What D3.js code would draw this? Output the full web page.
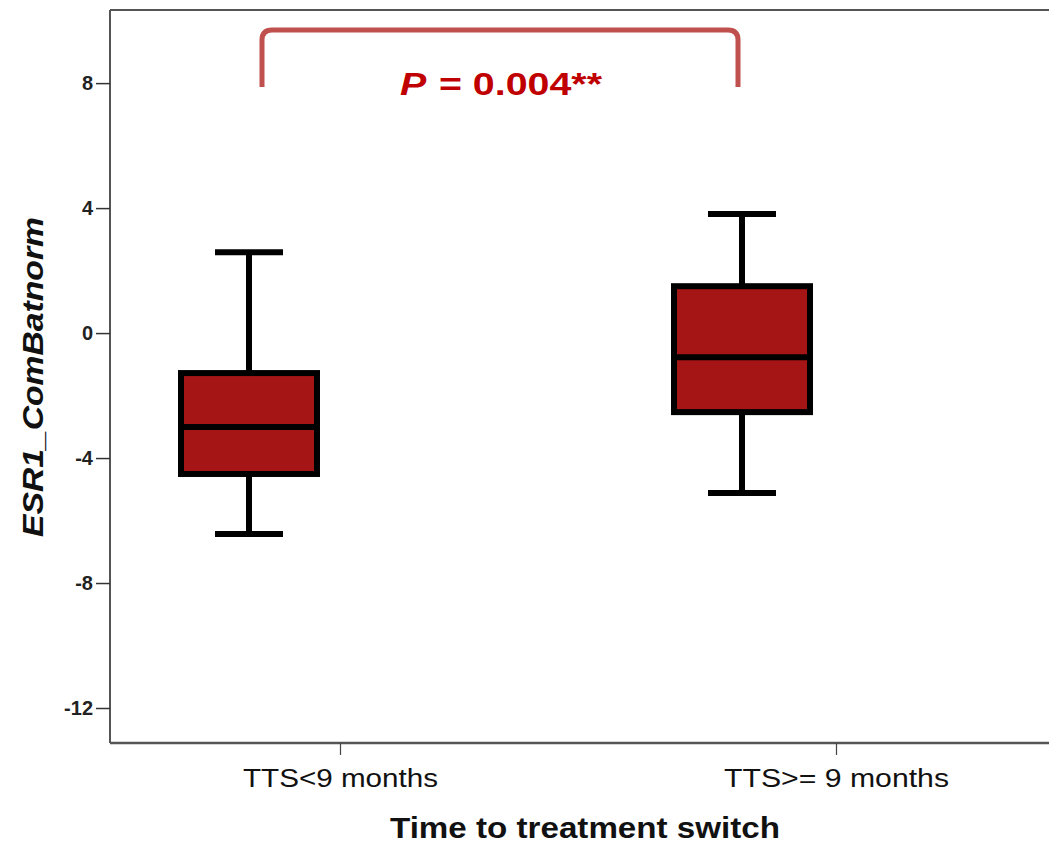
<!DOCTYPE html>
<html><head><meta charset="utf-8">
<script src="https://cdn.jsdelivr.net/npm/d3@7"></script>
<style>body{margin:0;background:#fff}svg{display:block}</style>
</head><body>
<svg id="c" width="1049" height="847"></svg>
<script>
const categories = ["TTS<9 months", "TTS>= 9 months"];
const whiskerLow = [-6.43, -5.12];
const q1 = [-4.51, -2.53];
const median = [-3.01, -0.77];
const q3 = [-1.28, 1.50];
const whiskerHigh = [2.59, 3.81];
const yTicks = [-12, -8, -4, 0, 4, 8];
const pLabel = "= 0.004**";

const svg = d3.select("#c");
const L = 110, T = 10, R = 1049, B = 743;
const y = d3.scaleLinear().domain([-13.12, 10.34]).range([B, T]);
const xBox = d3.scalePoint().domain(categories).range([249, 742]);
const xAxisScale = d3.scalePoint().domain(categories).range([340, 836]);

const frame = "#555";
svg.append("line").attr("x1", L).attr("x2", R).attr("y1", T).attr("y2", T).attr("stroke", frame).attr("stroke-width", 2);
svg.append("line").attr("x1", L).attr("x2", R).attr("y1", B).attr("y2", B).attr("stroke", frame).attr("stroke-width", 2.5);
svg.append("line").attr("x1", L).attr("x2", L).attr("y1", T).attr("y2", B).attr("stroke", frame).attr("stroke-width", 2);

// Y axis
const yAxis = svg.append("g").attr("transform", `translate(${L},0)`)
  .call(d3.axisLeft(y).tickValues(yTicks).tickSize(14).tickPadding(3).tickFormat(d => String(d)));
yAxis.select(".domain").remove();
yAxis.selectAll(".tick line").attr("stroke", "#333").attr("stroke-width", 1.5);
yAxis.selectAll(".tick text").attr("font-family", "Liberation Sans, Arial, sans-serif")
  .attr("font-weight", "bold").attr("font-size", 20).attr("fill", "#222");

// X axis
const xAxis = svg.append("g").attr("transform", `translate(0,${B})`)
  .call(d3.axisBottom(xAxisScale).tickSize(12).tickPadding(14));
xAxis.select(".domain").remove();
xAxis.selectAll(".tick line").attr("stroke", "#444").attr("stroke-width", 1.2);
xAxis.selectAll(".tick text").attr("font-family", "Liberation Sans, Arial, sans-serif")
  .attr("font-size", 25).attr("fill", "#111")
  .attr("textLength", (d, i) => i === 0 ? 195 : 225).attr("lengthAdjust", "spacingAndGlyphs");

// Titles
svg.append("text").attr("x", 585).attr("y", 838).attr("text-anchor", "middle")
  .attr("font-family", "Liberation Sans, Arial, sans-serif").attr("font-weight", "bold")
  .attr("font-size", 29).attr("fill", "#111")
  .attr("textLength", 390).attr("lengthAdjust", "spacingAndGlyphs")
  .text("Time to treatment switch");
svg.append("text").attr("transform", "translate(43,377) rotate(-90)").attr("text-anchor", "middle")
  .attr("font-family", "Liberation Sans, Arial, sans-serif").attr("font-weight", "bold").attr("font-style", "italic")
  .attr("font-size", 30).attr("fill", "#111")
  .attr("textLength", 320).attr("lengthAdjust", "spacingAndGlyphs")
  .text("ESR1_ComBatnorm");

// Boxes
const data = categories.map((c, i) => ({c, lo: whiskerLow[i], q1: q1[i], med: median[i], q3: q3[i], hi: whiskerHigh[i]}));
const boxW = 136, capW = 68;
const g = svg.append("g");
const bx = g.selectAll("g.box").data(data).join("g").attr("class", "box");
bx.append("line").attr("x1", d => xBox(d.c)).attr("x2", d => xBox(d.c))
  .attr("y1", d => y(d.hi)).attr("y2", d => y(d.lo)).attr("stroke", "#000").attr("stroke-width", 6);
bx.append("line").attr("x1", d => xBox(d.c) - capW / 2).attr("x2", d => xBox(d.c) + capW / 2)
  .attr("y1", d => y(d.hi)).attr("y2", d => y(d.hi)).attr("stroke", "#000").attr("stroke-width", 6);
bx.append("line").attr("x1", d => xBox(d.c) - capW / 2).attr("x2", d => xBox(d.c) + capW / 2)
  .attr("y1", d => y(d.lo)).attr("y2", d => y(d.lo)).attr("stroke", "#000").attr("stroke-width", 6);
bx.append("rect").attr("x", d => xBox(d.c) - boxW / 2).attr("width", boxW)
  .attr("y", d => y(d.q3)).attr("height", d => y(d.q1) - y(d.q3))
  .attr("fill", "#a51516").attr("stroke", "#000").attr("stroke-width", 6);
bx.append("line").attr("x1", d => xBox(d.c) - boxW / 2).attr("x2", d => xBox(d.c) + boxW / 2)
  .attr("y1", d => y(d.med)).attr("y2", d => y(d.med)).attr("stroke", "#000").attr("stroke-width", 6);

// Significance bracket
const bl = xBox(categories[0]) + 13, br = xBox(categories[1]) - 4;
const bt = 30, bb = 87, r = 10;
svg.append("path")
  .attr("d", `M${bl},${bb} L${bl},${bt + r} Q${bl},${bt} ${bl + r},${bt} L${br - r},${bt} Q${br},${bt} ${br},${bt + r} L${br},${bb}`)
  .attr("fill", "none").attr("stroke", "#c0504d").attr("stroke-width", 5);

const pt = svg.append("text").attr("x", 400).attr("y", 95)
  .attr("font-family", "Liberation Sans, Arial, sans-serif").attr("font-weight", "bold")
  .attr("font-size", 31).attr("fill", "#c00000")
  .attr("textLength", 202).attr("lengthAdjust", "spacingAndGlyphs");
pt.append("tspan").attr("font-style", "italic").text("P");
pt.append("tspan").attr("dx", 10).text(pLabel);
</script>
</body></html>
